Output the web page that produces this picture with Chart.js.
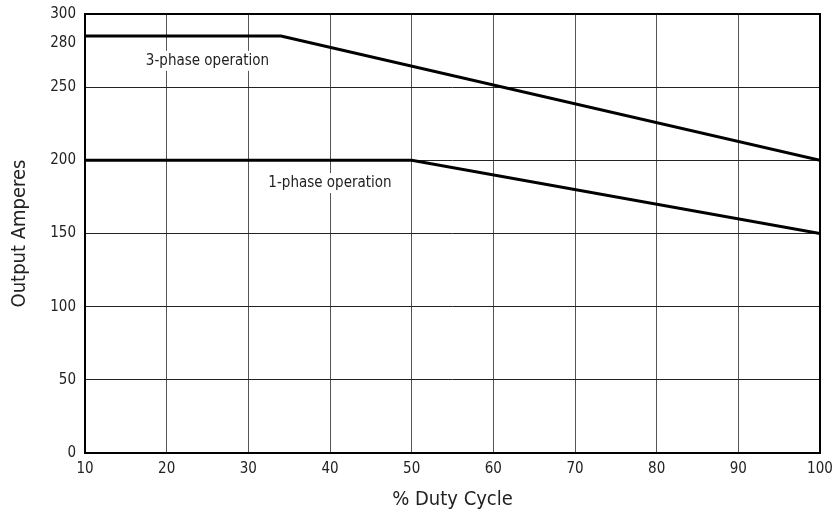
<!DOCTYPE html>
<html>
<head>
<meta charset="utf-8">
<script src="https://cdn.jsdelivr.net/npm/chart.js@4.4.1/dist/chart.umd.min.js"></script>
<style>
html,body{margin:0;padding:0;background:#fff;}
#wrap{width:832px;height:516px;}
</style>
</head>
<body>
<div id="wrap"><canvas id="c" width="832" height="516"></canvas></div>
<script>
const threePhaseX = [10, 34, 100];
const threePhaseY = [285, 285, 200];
const onePhaseX = [10, 50, 100];
const onePhaseY = [200, 200, 150];
const yTickValues = [0, 50, 100, 150, 200, 250, 280, 300];
const yGridValues = [50, 100, 150, 200, 250];
const labelTexts = ["3-phase operation", "1-phase operation"];
const labelX = [25, 40];
const labelY = [268, 184.5];

const FONT = "'DejaVu Sans Condensed','Liberation Sans Narrow',sans-serif";

const toPts = (xs, ys) => xs.map((x, i) => ({x: x, y: ys[i]}));

const framePlugin = {
  id: 'frame',
  afterDraw(chart) {
    const {ctx, chartArea: a, scales} = chart;
    ctx.save();
    ctx.font = "15px " + FONT;
    ctx.textAlign = 'center';
    ctx.textBaseline = 'middle';
    labelTexts.forEach((t, i) => {
      const px = scales.x.getPixelForValue(labelX[i]);
      const py = scales.y.getPixelForValue(labelY[i]);
      const w = ctx.measureText(t).width;
      ctx.fillStyle = '#fff';
      ctx.fillRect(px - w/2 - 3, py - 10, w + 6, 20);
      ctx.fillStyle = '#222';
      ctx.fillText(t, px, py);
    });
    ctx.strokeStyle = '#000';
    ctx.lineWidth = 2;
    ctx.strokeRect(a.left, a.top, a.right - a.left, a.bottom - a.top);
    ctx.restore();
  }
};

new Chart(document.getElementById('c'), {
  type: 'line',
  data: {
    datasets: [
      {label: '3-phase operation', data: toPts(threePhaseX, threePhaseY), borderColor: '#000', borderWidth: 3, pointRadius: 0, tension: 0, fill: false},
      {label: '1-phase operation', data: toPts(onePhaseX, onePhaseY), borderColor: '#000', borderWidth: 3, pointRadius: 0, tension: 0, fill: false}
    ]
  },
  options: {
    responsive: false,
    animation: false,
    devicePixelRatio: 1,
    layout: {padding: {left: 8, right: 12, top: 14, bottom: 0}},
    plugins: {legend: {display: false}, tooltip: {enabled: false}},
    scales: {
      x: {
        type: 'linear', min: 10, max: 100,
        ticks: {stepSize: 10, color: '#222', font: {family: FONT, size: 15}, padding: 7},
        grid: {color: (c) => (c.tick && (c.tick.value === 10 || c.tick.value === 100)) ? 'rgba(0,0,0,0)' : '#555', lineWidth: 1, drawTicks: false},
        border: {display: false},
        title: {display: true, text: '% Duty Cycle', color: '#222', font: {family: FONT, size: 20}, padding: {top: 4, bottom: 4}},
        afterFit(s) { s.height = 63; s.paddingLeft = 0; s.paddingRight = 0; }
      },
      y: {
        type: 'linear', min: 0, max: 300,
        afterBuildTicks(s) { s.ticks = yTickValues.map(v => ({value: v})); },
        ticks: {color: '#222', font: {family: FONT, size: 15}, padding: 9},
        grid: {color: (c) => (c.tick && yGridValues.includes(c.tick.value)) ? '#222' : 'rgba(0,0,0,0)', lineWidth: 1, drawTicks: false},
        border: {display: false},
        title: {display: true, text: 'Output Amperes', color: '#222', font: {family: FONT, size: 20}, padding: {top: 0, bottom: 4}},
        afterFit(s) { s.width = 77; s.paddingTop = 0; s.paddingBottom = 0; }
      }
    }
  },
  plugins: [framePlugin]
});
</script>
</body>
</html>
